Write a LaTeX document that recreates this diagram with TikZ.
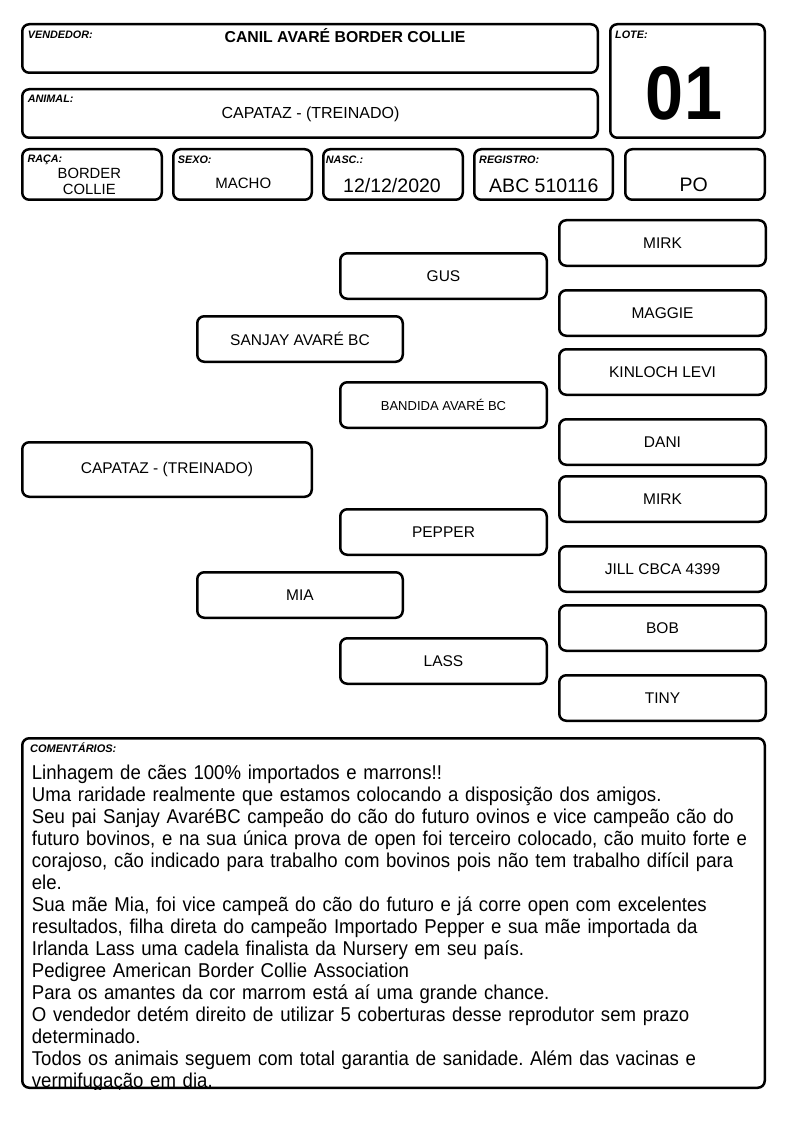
\documentclass[tikz,border=0pt]{standalone}
\usepackage{fontspec}
\setmainfont{Liberation Sans}
\newfontfamily\comfont{Liberation Sans}[FakeStretch=0.93]
\newfontfamily\lotefont{Liberation Sans}[FakeStretch=0.9]
\frenchspacing
\begin{document}
\begin{tikzpicture}[x=1pt,y=-1pt,
  box/.style={draw,line width=2.5pt,rounded corners=7pt,inner sep=0pt},
  lbl/.style={anchor=base west,inner sep=0pt,font=\fontsize{10.8}{12}\selectfont\bfseries\itshape},
  val/.style={anchor=base,inner sep=0pt},
  ped/.style={box,minimum width=206.5pt,minimum height=45.5pt,font=\fontsize{15.5}{18}\selectfont},
  pedA/.style={ped,minimum width=205.5pt}]
\useasboundingbox (0,0) rectangle (794,1123);
% header boxes
\node[box,minimum width=575.5pt,minimum height=48.5pt] (vend) at (310,48.5) {};
\node[box,minimum width=575.5pt,minimum height=48.5pt] (anim) at (310,113.5) {};
\node[box,minimum width=154.5pt,minimum height=113.5pt] (lote) at (687.5,81) {};
\node[box,minimum width=139.5pt,minimum height=50.5pt] (raca) at (92,174.5) {};
\node[box,minimum width=138.5pt,minimum height=50.5pt] (sexo) at (242.5,174.5) {};
\node[box,minimum width=139.5pt,minimum height=50.5pt] (nasc) at (393,174.5) {};
\node[box,minimum width=138.5pt,minimum height=50.5pt] (regi) at (543.5,174.5) {};
\node[box,minimum width=139.5pt,minimum height=50.5pt] (po) at (695,174.5) {};
% labels
\node[lbl] (lvend) at (27.7,39) {VENDEDOR:};
\node[lbl] (lanim) at (27.7,102.3) {ANIMAL:};
\node[lbl] (llote) at (615,39) {LOTE:};
\node[lbl] (lraca) at (27.3,162.3) {RAÇA:};
\node[lbl] (lsexo) at (177.7,164) {SEXO:};
\node[lbl] (lnasc) at (325.7,164) {NASC.:};
\node[lbl] (lregi) at (479,164) {REGISTRO:};
% values
\node[val,font=\fontsize{15.8}{18}\selectfont\bfseries] (vvend) at (345,42.5) {CANIL AVARÉ BORDER COLLIE};
\node[val,font=\fontsize{16}{18}\selectfont] (vanim) at (310.5,119) {CAPATAZ - (TREINADO)};
\node[val,font=\lotefont\fontsize{76}{80}\selectfont\bfseries] (vlote) at (684,120) {01};
\node[val,font=\fontsize{14.8}{17}\selectfont] (vraca1) at (89.3,178.3) {BORDER};
\node[val,font=\fontsize{14.8}{17}\selectfont] (vraca2) at (89.3,195) {COLLIE};
\node[val,font=\fontsize{15}{17}\selectfont] (vsexo) at (243.3,189) {MACHO};
\node[val,font=\fontsize{19.5}{22}\selectfont] (vnasc) at (392,192.3) {12/12/2020};
\node[val,font=\fontsize{19.5}{22}\selectfont] (vregi) at (543.8,192.3) {ABC 510116};
\node[val,font=\fontsize{19.5}{22}\selectfont] (vpo) at (693.7,191.7) {PO};
% pedigree
\node[ped] (p1) at (662.5,243) {MIRK};
\node[ped] (p2) at (662.5,313) {MAGGIE};
\node[ped] (p3) at (662.5,372) {KINLOCH LEVI};
\node[ped] (p4) at (662.5,442) {DANI};
\node[ped] (p5) at (662.5,499) {MIRK};
\node[ped] (p6) at (662.5,569) {JILL CBCA 4399};
\node[ped] (p7) at (662.5,628) {BOB};
\node[ped] (p8) at (662.5,698) {TINY};
\node[ped] (g1) at (443.5,276) {GUS};
\node[ped,font=\fontsize{13}{15}\selectfont] (g2) at (443.5,405) {BANDIDA AVARÉ BC};
\node[ped] (g3) at (443.5,532) {PEPPER};
\node[ped] (g4) at (443.5,661) {LASS};
\node[pedA] (s1) at (300,339) {SANJAY AVARÉ BC};
\node[pedA] (s2) at (300,595) {MIA};
\node[ped,minimum width=289.5pt,minimum height=54.5pt] (cap) at (167,469.5) {CAPATAZ - (TREINADO)};
% comments
\begin{scope}
\clip[rounded corners=7pt] (21,737) rectangle (766,1089);
\node[anchor=base west,inner sep=0pt,text width=760pt,align=left,font=\comfont\fontsize{20}{22}\selectfont] (ctext) at (31.7,779) {Linhagem de cães 100\% importados e marrons!!\\
Uma raridade realmente que estamos colocando a disposição dos amigos.\\
Seu pai Sanjay AvaréBC campeão do cão do futuro ovinos e vice campeão cão do\\
futuro bovinos, e na sua única prova de open foi terceiro colocado, cão muito forte e\\
corajoso, cão indicado para trabalho com bovinos pois não tem trabalho difícil para\\
ele.\\
Sua mãe Mia, foi vice campeã do cão do futuro e já corre open com excelentes\\
resultados, filha direta do campeão Importado Pepper e sua mãe importada da\\
Irlanda Lass uma cadela finalista da Nursery em seu país.\\
Pedigree American Border Collie Association\\
Para os amantes da cor marrom está aí uma grande chance.\\
O vendedor detém direito de utilizar 5 coberturas desse reprodutor sem prazo\\
determinado.\\
Todos os animais seguem com total garantia de sanidade. Além das vacinas e\\
vermifugação em dia.};
\end{scope}
\node[box,minimum width=742.5pt,minimum height=349.5pt] (com) at (393.5,913) {};
\node[lbl,font=\fontsize{11}{12}\selectfont\bfseries\itshape] (lcom) at (30,752.7) {COMENTÁRIOS:};
\end{tikzpicture}
\end{document}
